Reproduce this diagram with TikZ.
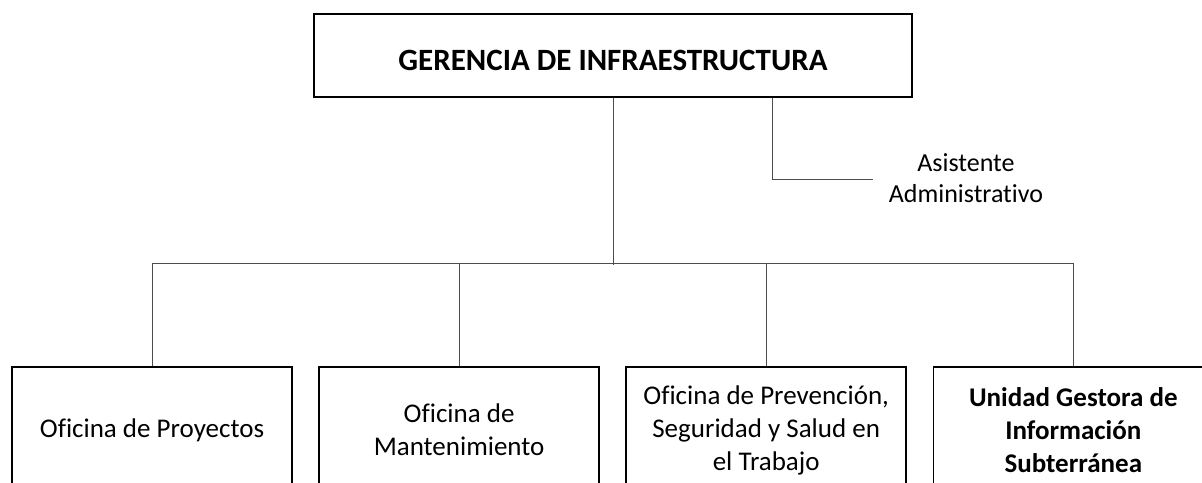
\documentclass[tikz,border=0pt]{standalone}
\usepackage{fontspec}
\setmainfont[Ligatures=NoCommon]{Carlito}
\usetikzlibrary{positioning}
\colorlet{box edge}{black}
\colorlet{link line}{black!70}
\tikzset{headbox/.style={draw=box edge, line width=2pt, minimum width=598pt,
        minimum height=83pt, text height=31pt,
        font=\fontsize{31}{36}\selectfont\bfseries},
    unitbox/.style={draw=box edge, line width=1.6pt, minimum width=280pt,
        minimum height=126pt, inner sep=0pt, align=center,
        font=\fontsize{27}{33}\selectfont},
    link/.style={draw=link line, line width=1pt}}

\begin{document}
\begin{tikzpicture}[x=1pt,y=-1pt, node distance=25.5pt]
    \useasboundingbox (0,0) rectangle (1202,482);
    \clip (0,0) rectangle (1202,482);
    \node[headbox] (gerencia) at (613,55.5) {GERENCIA DE INFRAESTRUCTURA};
    \node[align=center, inner sep=0pt, font=\fontsize{26}{31}\selectfont]
        (asistente) at (966,178) {Asistente\\Administrativo};
    \coordinate (asistente end) at (873,179);
    % oficinas
    \node[unitbox] (proyectos) at (152,430) {Oficina de Proyectos};
    \node[unitbox, right=of proyectos] (mantenimiento) {Oficina de\\Mantenimiento};
    \node[unitbox, right=of mantenimiento] (prevencion)
        {Oficina de Prevención,\\Seguridad y Salud en\\el Trabajo};
    \node[unitbox, right=of prevencion, font=\fontsize{27}{33}\selectfont\bfseries]
        (unidad) {Unidad Gestora de\\Información\\Subterránea};
    % lineas
    \draw[link] (gerencia.south) -- ++(0,167);
    \draw[link] ([xshift=159pt]gerencia.south) |- (asistente end);
    \draw[link] (proyectos.north) -- ++(0,-103) -| (unidad.north);
    \draw[link] (mantenimiento.north) -- ++(0,-103);
    \draw[link] (prevencion.north) -- ++(0,-103);
\end{tikzpicture}
\end{document}
